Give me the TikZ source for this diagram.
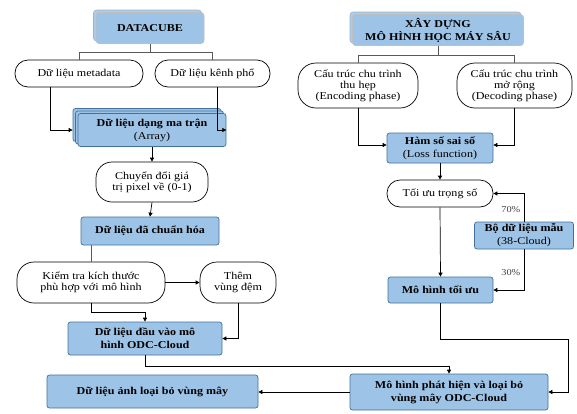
\documentclass[tikz,border=0pt]{standalone}
\usepackage{fontspec}
\setmainfont[FakeStretch=1.15]{Liberation Serif}
\usetikzlibrary{arrows.meta,calc,shadows}
\definecolor{boxblue}{HTML}{9DC3E6}
\definecolor{boxedge}{HTML}{41719C}
\begin{document}
\begin{tikzpicture}[x=1pt,y=-1pt,
  font=\fontsize{10.5}{11}\selectfont,
  bluebox/.style={draw=boxedge,fill=boxblue,rounded corners=2.5pt,line width=0.7pt,
    align=center,inner sep=1pt,font=\fontsize{10.5}{13}\selectfont\bfseries},
  headbox/.style={draw=gray!50,fill=boxblue,rounded corners=3pt,line width=0.6pt,
    align=center,inner sep=1pt,font=\fontsize{10.5}{13}\selectfont\bfseries,
    copy shadow={shadow xshift=-2.5pt,shadow yshift=2.5pt,draw=boxblue!80!gray,fill=boxblue!85!white}},
  pill/.style={draw=black,fill=white,rounded corners=13pt,line width=0.7pt,
    align=center,inner sep=1pt},
  arw/.style={draw=black,line width=0.7pt,-{Triangle[length=4pt,width=4pt]}},
  gline/.style={draw=gray!70!black,line width=0.6pt},
  pct/.style={font=\fontsize{9}{10}\selectfont,text=gray!50!black}]
\useasboundingbox (0,0) rectangle (577,413);

% left column
\node[headbox,minimum width=108pt,minimum height=31pt] (dc) at (150,28) {DATACUBE};
\node[pill,minimum width=128pt,minimum height=27pt] (meta) at (79,73.5) {Dữ liệu metadata};
\node[pill,minimum width=115pt,minimum height=27pt] (kenh) at (212.5,73.5) {Dữ liệu kênh phổ};
\node[bluebox,minimum width=148pt,minimum height=33pt,
  double copy shadow={shadow xshift=-2.5pt,shadow yshift=2.5pt,draw=boxedge,fill=boxblue}]
  (arr) at (152,130) {Dữ liệu dạng ma trận\\\mdseries(Array)};
\node[pill,minimum width=112pt,minimum height=40pt,rounded corners=16pt] (conv) at (152,182)
  {Chuyển đổi giá\\trị pixel về (0-1)};
\node[bluebox,minimum width=138pt,minimum height=28pt] (norm) at (150,231) {Dữ liệu đã chuẩn hóa};
\node[pill,minimum width=148pt,minimum height=41pt,rounded corners=17pt] (kiem) at (91,282.5)
  {Kiểm tra kích thước\\phù hợp với mô hình};
\node[pill,minimum width=76pt,minimum height=41pt,rounded corners=17pt] (them) at (238,282.5)
  {Thêm\\vùng đệm};
\node[bluebox,minimum width=154pt,minimum height=33pt] (input) at (145,338.5)
  {Dữ liệu đầu vào mô\\hình ODC-Cloud};
\node[bluebox,minimum width=211pt,minimum height=33pt] (out) at (152.5,391.5)
  {Dữ liệu ảnh loại bỏ vùng mây};

% right column
\node[headbox,minimum width=171pt,minimum height=31pt] (build) at (438,30)
  {XÂY DỰNG\\MÔ HÌNH HỌC MÁY SÂU};
\node[pill,minimum width=120pt,minimum height=45pt,rounded corners=18pt] (enc) at (358,85.5)
  {Cấu trúc chu trình\\thu hẹp\\(Encoding phase)};
\node[pill,minimum width=115pt,minimum height=45pt,rounded corners=18pt] (dec) at (514.5,85.5)
  {Cấu trúc chu trình\\mở rộng\\(Decoding phase)};
\node[bluebox,minimum width=106pt,minimum height=30pt] (loss) at (440,148)
  {Hàm số sai số\\\mdseries(Loss function)};
\node[pill,minimum width=106pt,minimum height=27pt] (opt) at (440,193.5) {Tối ưu trọng số};
\node[bluebox,minimum width=99pt,minimum height=27pt] (sample) at (524,235.5)
  {Bộ dữ liệu mẫu\\\mdseries(38-Cloud)};
\node[bluebox,minimum width=105pt,minimum height=26pt] (best) at (440.5,290) {Mô hình tối ưu};
\node[bluebox,minimum width=198pt,minimum height=36pt] (detect) at (449,392)
  {Mô hình phát hiện và loại bỏ\\vùng mây ODC-Cloud};

% left connectors
\draw[gline] (dc.south) -- ++(0,8.5);
\draw[gline] (meta.north) |- ($(dc.south)+(0,8.5)$) -| (kenh.north);
\draw[arw] ($(meta.south)+(-29,0)$) |- ($(arr.west)+(-5,0)$);
\draw[arw] ($(kenh.south)+(5,0)$) |- (arr.east);
\draw[arw] (arr.south) -- (conv.north);
\draw[arw] (conv.south) -- (norm.north);
\draw[gline] (norm.south -| kiem.north) -- (kiem.north);
\draw[arw] (kiem.east) -- (them.west);
\draw[arw] (kiem.south) -- ++(0,9) -| (input.north);
\draw[arw] (them.south) |- (input.east);
\draw[arw] (input.south) -- ++(0,11) -| (detect.north);
\draw[arw] (detect.west) -- (detect.west -| out.east);

% right connectors
\draw[gline] (build.south) -- ++(0,9.5);
\draw[gline] (enc.north) |- ($(build.south)+(0,9.5)$) -| (dec.north);
\draw[arw] (enc.south) |- ($(loss.west)+(0,-3)$);
\draw[arw] (dec.south) |- ($(loss.east)+(0,-3)$);
\draw[arw] (loss.south) -- (opt.north);
\draw[arw] (opt.south) -- (best.north);
\draw[arw] (sample.north) |- (opt.east) node[pct,pos=0.21,left=0pt] {70\%};
\draw[arw] (sample.south) |- (best.east) node[pct,pos=0.29,left=0pt] {30\%};
\draw[arw] (best.south) -- ++(0,36) -| ($(detect.east)+(20,0)$) -- (detect.east);
\end{tikzpicture}
\end{document}
